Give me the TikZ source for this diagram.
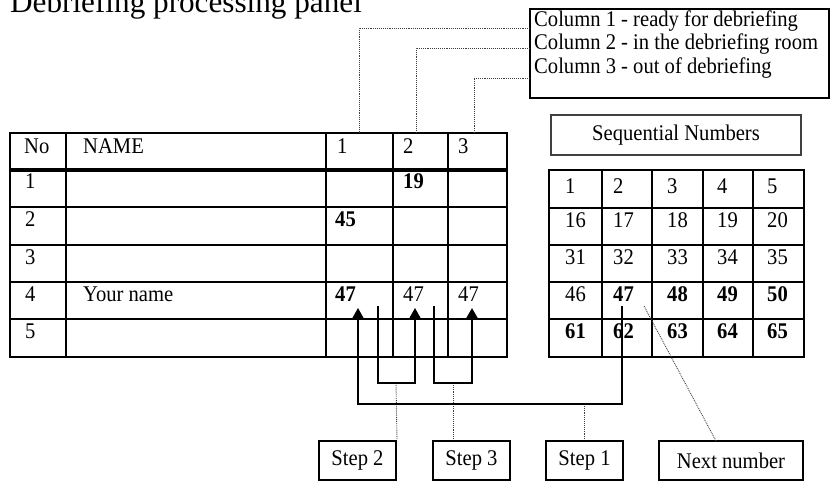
\documentclass[tikz,border=0pt]{standalone}
\usepackage{fontspec}
\setmainfont{Liberation Serif}
\newfontfamily\bodyfont[FakeStretch=0.92]{Liberation Serif}
\usetikzlibrary{arrows.meta}
\begin{document}
\begin{tikzpicture}[x=1pt,y=-1pt,
  txt/.style={anchor=base west,inner sep=0pt,font=\bodyfont\fontsize{22.4}{26}\selectfont},
  btxt/.style={txt,font=\bodyfont\fontsize{22.4}{26}\selectfont\bfseries},
  gridline/.style={line width=2pt},
  lead/.style={densely dotted,line width=0.9pt,black!75},
  flow/.style={line width=2.6pt,line cap=rect},
  arr/.style={line width=2.6pt,-{Triangle[length=12pt,width=13pt]}},
  thinarr/.style={line width=1.7pt,-{Triangle[length=12pt,width=13pt]}},
  stepbox/.style={draw,line width=2pt,minimum height=39pt,inner sep=0pt,font=\bodyfont\fontsize{22.4}{26}\selectfont}
]
\useasboundingbox (0,0) rectangle (831,481);

% title
\node[anchor=base west,inner sep=0pt,font=\fontsize{31.2}{36}\selectfont] (title) at (10,13) {Debriefing processing panel};

% legend
\node[draw,line width=2.6pt,minimum width=299pt,minimum height=89pt,inner sep=0pt] (legend) at (679.5,53.5) {};
\node[txt] (leg1) at (534,27) {Column 1 - ready for debriefing};
\node[txt] (leg2) at (534,50) {Column 2 - in the debriefing room};
\node[txt] (leg3) at (534,74) {Column 3 - out of debriefing};

% left table
\draw[gridline] (10,133) rectangle (507,357);
\foreach \xx in {66,326,393,448} \draw[gridline] (\xx,133) -- (\xx,357);
\foreach \yy in {207,245,282,319} \draw[gridline] (10,\yy) -- (507,\yy);
\draw[line width=3.5pt] (10,170) -- (507,170);

\node[txt] (hNo) at (24,154) {No};
\node[txt] (hName) at (83,154) {NAME};
\node[txt] (h1) at (337,154) {1};
\node[txt] (h2) at (403,154) {2};
\node[txt] (h3) at (458,154) {3};
\node[txt] (r1) at (25,189) {1};
\node[btxt] (r1c2) at (403,189) {19};
\node[txt] (r2) at (25,227) {2};
\node[btxt] (r2c1) at (335,227) {45};
\node[txt] (r3) at (25,265) {3};
\node[txt] (r4) at (25,302) {4};
\node[txt] (r4n) at (83,302) {Your name};
\node[btxt] (r4c1) at (335,302) {47};
\node[txt] (r4c2) at (403,302) {47};
\node[txt] (r4c3) at (458,302) {47};
\node[txt] (r5) at (25,339) {5};

% sequential numbers
\node[draw=black!75,line width=1.3pt,minimum width=250pt,minimum height=40pt,inner sep=0pt,font=\bodyfont\fontsize{22.4}{26}\selectfont] (seq) at (676,135) {Sequential Numbers};

\draw[gridline] (549,170) rectangle (804,357);
\foreach \xx in {602,652,703,753} \draw[gridline] (\xx,170) -- (\xx,357);
\foreach \yy in {208,245,282,319} \draw[gridline] (549,\yy) -- (804,\yy);

\foreach \r/\base in {0/194,1/228,2/265,3/302,4/339} {
  \foreach \c/\xx in {0/565,1/613,2/667,3/717,4/767} {
    \pgfmathtruncatemacro{\n}{15*\r+\c+1}
    \pgfmathtruncatemacro{\isb}{or(\r==4,and(\r==3,\c>0))}
    \node[txt] (g\r\c) at (\xx,\base) {\ifnum\isb=1 \bfseries\fi\n};
  }
}

% step boxes
\node[stepbox,minimum width=77pt] (step2) at (357.5,460.5) {Step 2};
\node[stepbox,minimum width=77pt] (step3) at (471.5,460.5) {Step 3};
\node[stepbox,minimum width=77pt] (step1) at (584.5,460.5) {Step 1};
\node[stepbox,minimum width=144pt] (nextn) at (731,460.5) {Next number};

% coordinates
\coordinate (l1a) at (530,28);
\coordinate (l1b) at (359,133);
\coordinate (l2a) at (530,48);
\coordinate (l2b) at (416,133);
\coordinate (l3a) at (530,78);
\coordinate (l3b) at (474,133);

\coordinate (s1a) at (622,307);
\coordinate (s1b) at (622,404);
\coordinate (s1c) at (358,404);
\coordinate (t1) at (358,308);
\coordinate (s1m) at (584,404);

\coordinate (s2a) at (378,307);
\coordinate (s2b) at (378,383);
\coordinate (s2c) at (415,383);
\coordinate (t2) at (415,308);
\coordinate (s2m) at (396,383);

\coordinate (s3a) at (434,307);
\coordinate (s3b) at (434,383);
\coordinate (s3c) at (472,383);
\coordinate (t3) at (472,308);
\coordinate (s3m) at (453,383);

\coordinate (nxa) at (644,306);
\coordinate (nxb) at (716,441);

% leaders
\draw[lead] (l1a) -| (l1b);
\draw[lead] (l2a) -| (l2b);
\draw[lead] (l3a) -| (l3b);
\draw[lead] (s2m) -- (step2.north east);
\draw[lead] (s3m) -- (s3m |- step3.north);
\draw[lead] (s1m) -- (s1m |- step1.north);
\draw[lead] (nxa) -- (nxb);

% flows
\draw[flow] (s1a) -- (s1b) -- (s1c);
\draw[thinarr] (s1c) -- (t1);
\draw[flow] (s2a) -- (s2b) -- (s2c);
\draw[thinarr] (s2c) -- (t2);
\draw[flow] (s3a) -- (s3b) -- (s3c);
\draw[arr] (s3c) -- (t3);
\end{tikzpicture}
\end{document}
